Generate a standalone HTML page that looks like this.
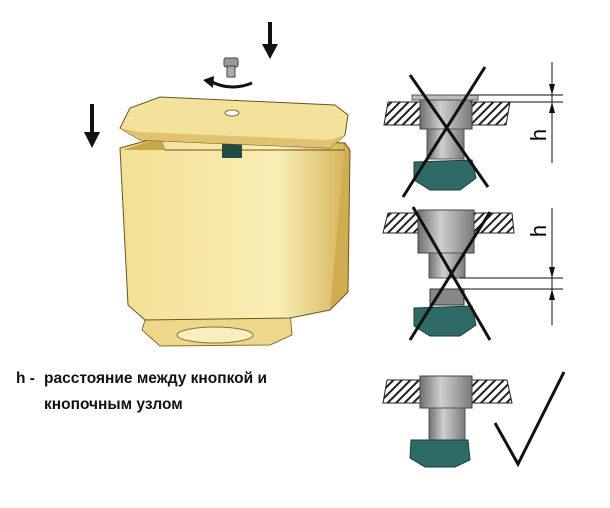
<!DOCTYPE html>
<html><head><meta charset="utf-8"><style>
html,body{margin:0;padding:0;background:#fff;width:610px;height:508px;overflow:hidden}
svg{position:absolute;left:0;top:0}
.t{position:absolute;font-family:"Liberation Sans",sans-serif;font-weight:bold;font-size:15.5px;color:#111}
</style></head><body>
<svg width="610" height="508" viewBox="0 0 610 508">
<defs>
<pattern id="h" width="6" height="6" patternUnits="userSpaceOnUse" patternTransform="rotate(45)">
<rect width="6" height="6" fill="#fff"/><rect width="2" height="6" fill="#222"/></pattern>
<linearGradient id="cy" x1="0" x2="1"><stop offset="0" stop-color="#6f6f6f"/><stop offset=".4" stop-color="#cfcfcf"/><stop offset="1" stop-color="#7a7a7a"/></linearGradient>
<linearGradient id="body" x1="0" x2="1"><stop offset="0" stop-color="#f2e094"/><stop offset=".7" stop-color="#f9eeb5"/><stop offset="1" stop-color="#d6b45a"/></linearGradient>
</defs>
<!-- tank -->
<path d="M145 320 L290 312 L292 335 L270 345 L160 346 L142 330 Z" fill="#eed78a" stroke="#8a7030" stroke-width="1"/>
<ellipse cx="215" cy="335" rx="38" ry="8" fill="#f9eebd" stroke="#8a7030"/>
<path d="M120 148 L160 137 L345 143 L347 290 L330 310 L290 318 L145 320 L128 305 Z" fill="url(#body)" stroke="#6b5520" stroke-width="1"/>
<path d="M345 143 L350 150 L348 292 L330 310" fill="#d0ad52" stroke="#6b5520"/>
<path d="M160 137 L165 150 L345 150" fill="none" stroke="#6b5520"/>
<path d="M162 137 L165 150 L122 150 Z" fill="#c9a84c"/>
<rect x="222" y="144" width="20" height="14" fill="#1f4a45"/>
<path d="M120 128 L130 108 L160 97 L335 105 L348 115 L345 135 L330 148 L140 140 Z" fill="#f4e29c" stroke="#6b5520"/>
<path d="M120 128 L140 140 L330 148 L345 135 L330 140 L140 132 Z" fill="#e0c270"/>
<ellipse cx="232" cy="113" rx="7" ry="3" fill="#fff" stroke="#8a7030"/>
<!-- arrows -->
<line x1="92" y1="104" x2="92" y2="135" stroke="#111" stroke-width="4"/><path d="M84 132 L100 132 L92 148 Z" fill="#111"/>
<line x1="270" y1="22" x2="270" y2="47" stroke="#111" stroke-width="4"/><path d="M262 44 L278 44 L270 59 Z" fill="#111"/>
<rect x="224" y="58" width="14" height="9" rx="2" fill="#999" stroke="#444"/><rect x="227" y="66" width="8" height="11" fill="#aaa" stroke="#444"/>
<path d="M210 81 Q230 92 252 83" fill="none" stroke="#111" stroke-width="3"/><path d="M203 80 L214 76 L213 88 Z" fill="#111"/>
<!-- diagram 1 -->
<path d="M388 102 L510 102 L506 125 L384 125 Z" fill="url(#h)" stroke="#222"/>
<rect x="420" y="98" width="52" height="31" fill="url(#cy)" stroke="#444"/>
<rect x="412" y="95" width="66" height="5" fill="#bbb" stroke="#555"/>
<rect x="427" y="129" width="37" height="30" fill="url(#cy)" stroke="#555"/>
<path d="M414 162 L472 160 L476 178 L460 190 L430 190 L414 180 Z" fill="#2e6a66" stroke="#1c3d3b"/>
<line x1="410" y1="75" x2="488" y2="187" stroke="#111" stroke-width="3"/>
<line x1="485" y1="67" x2="403" y2="197" stroke="#111" stroke-width="3"/>
<line x1="470" y1="95" x2="563" y2="95" stroke="#111"/><line x1="470" y1="102" x2="563" y2="102" stroke="#111"/>
<line x1="552" y1="62" x2="552" y2="163" stroke="#111"/>
<path d="M549 84 L555 84 L552 95 Z M549 113 L555 113 L552 102 Z" fill="#111"/>
<text x="540" y="135" transform="rotate(-90 540 135)" font-family="Liberation Sans" font-size="22" text-anchor="middle" dominant-baseline="middle">h</text>
<!-- diagram 2 -->
<path d="M388 213 L512 213 L514 233 L383 233 Z" fill="url(#h)" stroke="#222"/>
<rect x="418" y="210" width="56" height="43" fill="url(#cy)" stroke="#444"/>
<rect x="429" y="253" width="36" height="25" fill="url(#cy)" stroke="#555"/>
<rect x="430" y="289" width="34" height="16" fill="#888" stroke="#333"/>
<path d="M414 308 L472 306 L476 325 L460 336 L430 336 L414 326 Z" fill="#2e6a66" stroke="#1c3d3b"/>
<line x1="413" y1="207" x2="490" y2="340" stroke="#111" stroke-width="3"/>
<line x1="490" y1="212" x2="410" y2="340" stroke="#111" stroke-width="3"/>
<line x1="460" y1="278" x2="563" y2="278" stroke="#111"/><line x1="460" y1="289" x2="563" y2="289" stroke="#111"/>
<line x1="552" y1="208" x2="552" y2="325" stroke="#111"/>
<path d="M549 267 L555 267 L552 278 Z M549 300 L555 300 L552 289 Z" fill="#111"/>
<text x="540" y="231" transform="rotate(-90 540 231)" font-family="Liberation Sans" font-size="22" text-anchor="middle" dominant-baseline="middle">h</text>
<!-- diagram 3 -->
<path d="M387 380 L507 380 L512 403 L383 403 Z" fill="url(#h)" stroke="#222"/>
<rect x="420" y="376" width="52" height="32" fill="url(#cy)" stroke="#444"/>
<rect x="429" y="408" width="36" height="33" fill="url(#cy)" stroke="#555"/>
<path d="M411 440 L468 440 L470 460 L455 467 L425 467 L410 458 Z" fill="#2e6a66" stroke="#1c3d3b"/>
<path d="M495 423 L518 464 L564 372" fill="none" stroke="#111" stroke-width="3"/>
</svg>
<div class="t" style="left:16px;top:370px">h -</div>
<div class="t" style="left:44px;top:370px">расстояние между кнопкой и</div>
<div class="t" style="left:44px;top:396px">кнопочным узлом</div>
</body></html>
